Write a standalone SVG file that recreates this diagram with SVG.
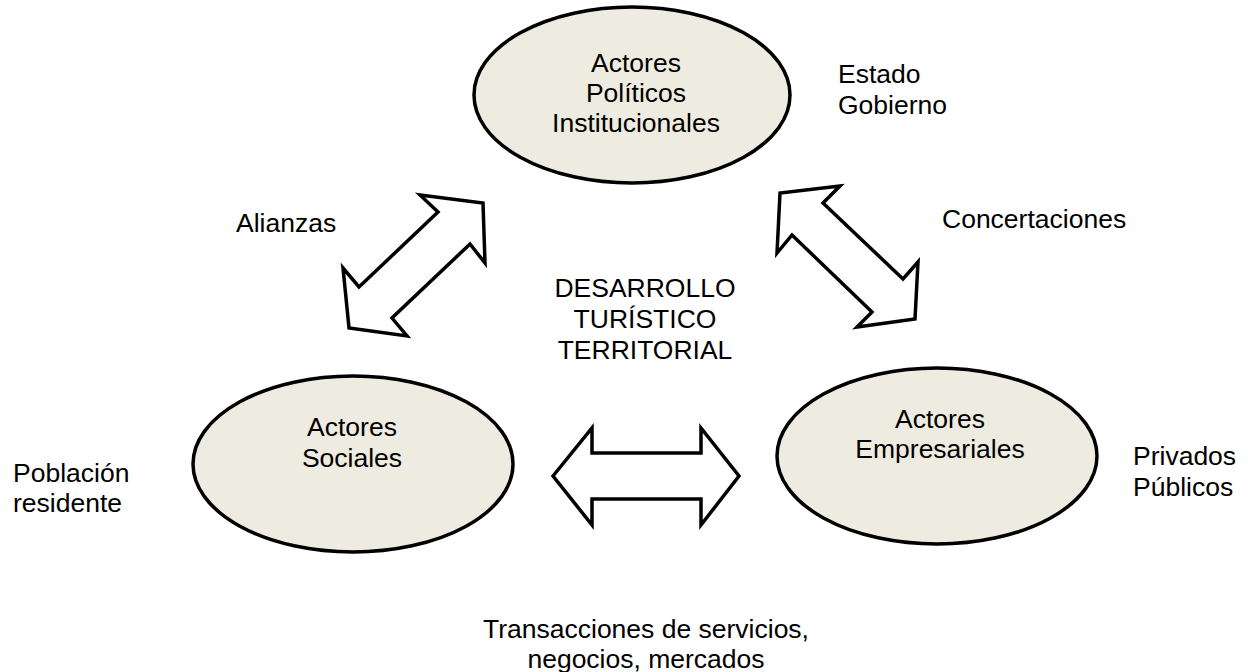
<svg xmlns="http://www.w3.org/2000/svg" width="1248" height="672" viewBox="0 0 1248 672">
<style>
.node{fill:#EEECE1;stroke:#000;stroke-width:3.5}
.arrow{fill:#fff;stroke:#000;stroke-width:3.5;stroke-linejoin:miter}
text{font-family:"Liberation Sans",Arial,sans-serif;font-size:26.5px;fill:#000}
.c{text-anchor:middle}
</style>
<rect width="1248" height="672" fill="#fff"/>
<g id="connectors">
<polygon class="arrow" points="420,195 483,203 485,263 470,244 392,318 407,336 349,328 343,268 359,287 438,212"/>
<polygon class="arrow" points="840,186 780,193 777,253 792,235 872,312 857,327 915,319 918,262 903,279 823,203"/>
<polygon class="arrow" points="553,476 592,428 592,453 701,453 701,428 739,476 701,525 701,499 592,499 592,525"/>
</g>
<g id="node-politicos">
<ellipse class="node" cx="632" cy="95" rx="158" ry="88"/>
<text class="c" x="636" y="72">Actores</text>
<text class="c" x="636" y="102">Políticos</text>
<text class="c" x="636" y="132">Institucionales</text>
</g>
<g id="node-sociales">
<ellipse class="node" cx="353" cy="464" rx="160" ry="88"/>
<text class="c" x="352" y="436">Actores</text>
<text class="c" x="352" y="467">Sociales</text>
</g>
<g id="node-empresariales">
<ellipse class="node" cx="937" cy="456" rx="160" ry="88"/>
<text class="c" x="940" y="428">Actores</text>
<text class="c" x="940" y="458">Empresariales</text>
</g>
<g id="labels">
<text x="838" y="83">Estado</text>
<text x="838" y="114">Gobierno</text>
<text x="236" y="232">Alianzas</text>
<text x="942" y="228">Concertaciones</text>
<text class="c" x="645" y="297">DESARROLLO</text>
<text class="c" x="645" y="328">TURÍSTICO</text>
<text class="c" x="645" y="359">TERRITORIAL</text>
<text x="13" y="482">Población</text>
<text x="13" y="512">residente</text>
<text x="1133" y="465">Privados</text>
<text x="1133" y="496">Públicos</text>
<text class="c" x="646" y="638">Transacciones de servicios,</text>
<text class="c" x="646" y="668">negocios, mercados</text>
</g>
</svg>
